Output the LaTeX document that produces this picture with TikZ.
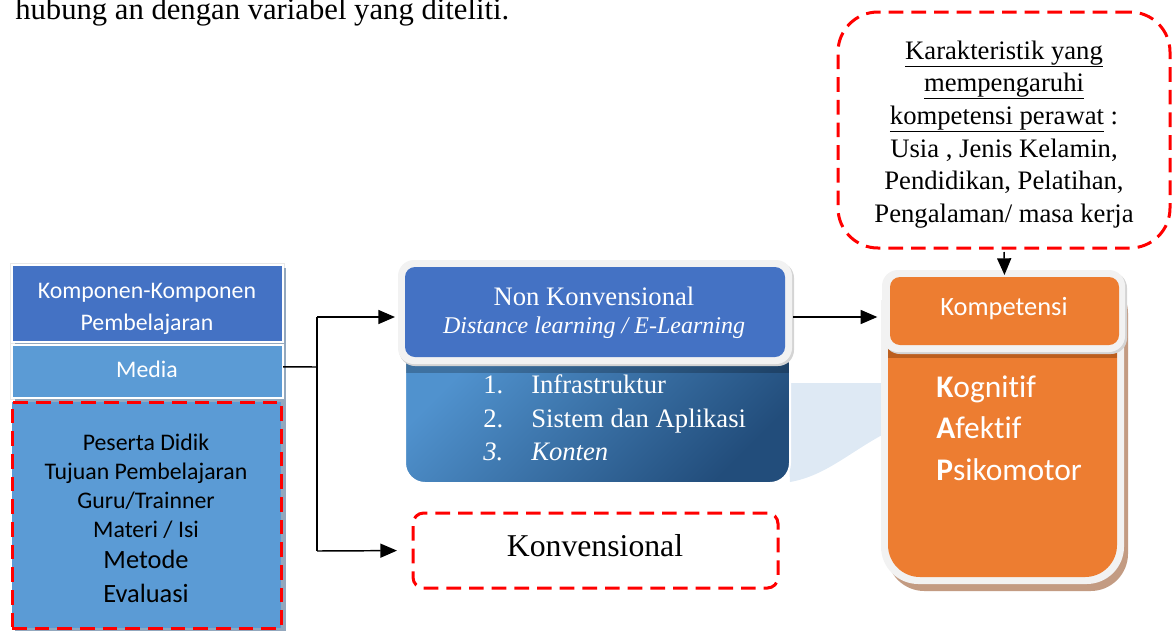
\documentclass[tikz,border=0pt]{standalone}
\usepackage{fontspec}
\setmainfont{Liberation Serif}
\newfontfamily\calibri{Carlito}[Ligatures={NoCommon}]
\usetikzlibrary{arrows.meta}

\definecolor{hdrblue}{HTML}{4472C4}
\definecolor{lightblue}{HTML}{5B9BD5}
\definecolor{orng}{HTML}{ED7D31}
\definecolor{orngdark}{HTML}{BC5E1E}
\definecolor{rim}{HTML}{F2F2F2}
\definecolor{rimshade}{HTML}{D4D4D4}
\definecolor{brownshade}{HTML}{C39B82}
\definecolor{paleblue}{HTML}{DEE9F4}
\definecolor{gradtop}{HTML}{5092CE}
\definecolor{gradbot}{HTML}{224D7B}
\definecolor{stackshade}{HTML}{93A8BE}
\definecolor{dashred}{HTML}{FF0000}

\begin{document}
\begin{tikzpicture}[x=0.75pt,y=-0.75pt,
  rectbox/.style={rectangle, inner sep=0pt, outer sep=0pt},
  reddash/.style={draw=dashred, line width=2.25pt, dash pattern=on 11pt off 6pt},
  serif/.style={inner sep=0pt, anchor=base, font=\fontsize{20}{24}\selectfont},
  calsmall/.style={inner sep=0pt, anchor=base, font=\calibri\fontsize{17.85}{21}\selectfont},
  calmid/.style={inner sep=0pt, anchor=base, font=\calibri\fontsize{19.8}{23}\selectfont},
  calbig/.style={inner sep=0pt, anchor=base west, font=\calibri\fontsize{23.6}{27}\selectfont, text=white},
  conn/.style={line width=1.1pt},
  arr/.style={line width=1.1pt, -{Triangle[length=12.5pt,width=10.5pt]}},
]
\useasboundingbox (0,0) rectangle (1176,632);
\clip (0,0) rectangle (1176,632);

% running text above the figure
\node[serif, anchor=base west, font=\fontsize{23}{27}\selectfont] (caption) at (15,19) {hubung an dengan variabel yang diteliti.};

% ---------------- left stack: learning components ----------------
\fill[black!9] (10,263) rectangle (285,400);
\fill[stackshade] (15,268) rectangle (286,631);
\node[rectbox, fill=hdrblue, draw=white, line width=0.9pt,
      minimum width=203.25pt, minimum height=57.75pt] (komp) at (147.5,303.5) {};
\node[calsmall, text=white] (komp1) at (147,298) {Komponen-Komponen};
\node[calsmall, text=white] (komp2) at (147,330) {Pembelajaran};
\node[rectbox, fill=lightblue, draw=white, line width=0.9pt,
      minimum width=203.25pt, minimum height=39.75pt] (media) at (147.5,371.5) {};
\node[calsmall, text=white] (mediat) at (147,377) {Media};
\node[rectbox, fill=lightblue, reddash,
      minimum width=201.75pt, minimum height=169.5pt] (comps) at (146.5,515) {};
\node[calsmall] (c1) at (146,450) {Peserta Didik};
\node[calsmall] (c2) at (146,479) {Tujuan Pembelajaran};
\node[calsmall] (c3) at (146,508) {Guru/Trainner};
\node[calsmall] (c4) at (146,537) {Materi / Isi};
\node[calmid] (c5) at (146,568) {Metode};
\node[calmid] (c6) at (146,602) {Evaluasi};

% ---------------- connector from the stack ----------------
\coordinate (fork) at (317,367);
\coordinate (forktop) at (317,317);
\coordinate (forkbot) at (317,551);

% ---------------- pale band between the two right blocks ----------------
\fill[paleblue] (785,383) -- (884,383) -- (884,434)
  .. controls (850,452) and (825,476) .. (790,482) -- cycle;

% ---------------- non-conventional block ----------------
\shade[left color=gradtop, right color=gradbot, shading angle=45, rounded corners=15pt]
  (405,350) -- (790,350) -- (790,483) -- (405,483) [sharp corners] -- cycle;
\draw[white, line width=1.5pt, rounded corners=15pt]
  (790,352) -- (790,483) -- (405,483) -- (405,352);
\fill[black, opacity=0.22] (406,360) rectangle (789,373);
\fill[rimshade, rounded corners=12pt] (399,262) rectangle (794,366);
\fill[rim, rounded corners=12pt] (398,260) rectangle (792,364);
\node[rectbox, fill=hdrblue, rounded corners=7.5pt,
      minimum width=285pt, minimum height=67.5pt] (nkhead) at (595,312) {};
\node[serif, text=white] (nk1) at (594,305) {Non Konvensional};
\node[serif, text=white, font=\fontsize{18}{22}\selectfont\itshape] (nk2) at (594,333) {Distance learning / E-Learning};
\node[serif, anchor=base west, text=white] (n1) at (483,393) {1.};
\node[serif, anchor=base west, text=white] (t1) at (531,393) {Infrastruktur};
\node[serif, anchor=base west, text=white] (n2) at (483,427) {2.};
\node[serif, anchor=base west, text=white] (t2) at (531,427) {Sistem dan Aplikasi};
\node[serif, anchor=base west, text=white] (n3) at (483,460) {\itshape 3.};
\node[serif, anchor=base west, text=white] (t3) at (531,460) {\itshape Konten};

% ---------------- conventional block ----------------
\node[rectbox, reddash, rounded corners=8pt,
      minimum width=273.75pt, minimum height=56.25pt] (konv) at (595.5,550.5) {};
\node[serif, font=\fontsize{23.8}{28}\selectfont] (konvt) at (595,556) {Konvensional};

% ---------------- competence block ----------------
\fill[brownshade, rounded corners=28pt] (887,276) rectangle (1128,591);
\fill[rim] (881,300) [rounded corners=28pt] -- (881,584) -- (1124,584) [sharp corners] -- (1124,300) -- cycle;
\fill[orng] (888,340) [rounded corners=24pt] -- (888,577) -- (1117,577) [sharp corners] -- (1117,340) -- cycle;
\fill[orngdark] (888,346) rectangle (1117,358);
\fill[rimshade, rounded corners=12pt] (884,272) rectangle (1127,354);
\fill[rim, rounded corners=12pt] (882,270) rectangle (1125,352);
\node[rectbox, fill=orng, rounded corners=7.5pt,
      minimum width=171.75pt, minimum height=51pt] (komphead) at (1004.5,311) {};
\node[calmid, text=white] (kompt) at (1004,315) {Kompetensi};
\node[calbig] (k1) at (936,397) {\textbf{K}ognitif};
\node[calbig] (k2) at (936,438) {\textbf{A}fektif};
\node[calbig] (k3) at (936,480) {\textbf{P}sikomotor};

% ---------------- nurse characteristics ----------------
\node[rectbox, reddash, rounded corners=30pt,
      minimum width=249pt, minimum height=177pt] (karak) at (1004,130) {};
\node[serif] (ch1) at (1004,59) {\underline{Karakteristik yang}};
\node[serif] (ch2) at (1004,91) {\underline{mempengaruhi}};
\node[serif] (ch3) at (1004,124) {\underline{kompetensi perawat} :};
\node[serif] (ch4) at (1004,157) {Usia , Jenis Kelamin,};
\node[serif] (ch5) at (1004,189) {Pendidikan, Pelatihan,};
\node[serif] (ch6) at (1004,222) {Pengalaman/ masa kerja};

% ---------------- connectors ----------------
\draw[conn] ([yshift=3.5pt]media.east) -- (fork);
\draw[conn] (forktop) -- (forkbot);
\draw[arr, shorten >=7.5pt] (forktop) -- ([yshift=-3.75pt]nkhead.west);
\draw[arr, shorten >=12pt] (forkbot) -- (konv.west);
\draw[arr, shorten <=6pt, shorten >=9.5pt] ([yshift=-3.75pt]nkhead.east) -- ([yshift=-4.5pt]komphead.west);
\draw[arr, shorten <=3pt, shorten >=1.5pt] (karak.south) -- (komphead.north);
\end{tikzpicture}
\end{document}
